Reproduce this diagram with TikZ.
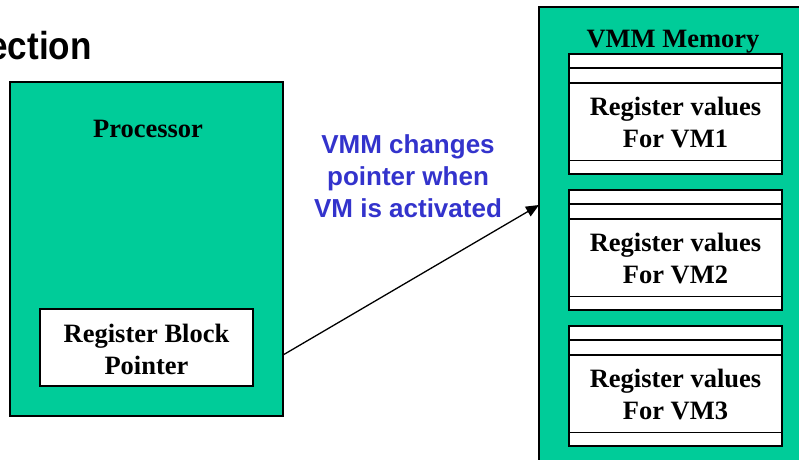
\documentclass[tikz,border=0pt]{standalone}
\usepackage{fontspec}
\setmainfont{Liberation Serif}
\newfontfamily\arialfont{Liberation Sans}
\usetikzlibrary{arrows.meta,calc}
\definecolor{teal1}{RGB}{0,204,153}
\definecolor{blue1}{RGB}{51,51,204}
\tikzset{
  greenbox/.style={draw=black, line width=1.5pt, fill=teal1, inner sep=0pt},
  whitebox/.style={draw=black, line width=1.5pt, fill=white, inner sep=0pt},
  serifbold/.style={font=\fontsize{26.5}{32}\selectfont\bfseries, align=center, inner sep=0pt},
  bluetxt/.style={font=\arialfont\fontsize{26}{32}\selectfont\bfseries, text=blue1, align=center, inner sep=0pt},
  sepline/.style={line width=1.5pt},
}
\begin{document}
\begin{tikzpicture}[x=1pt,y=-1pt]
\useasboundingbox (0,0) rectangle (799,459);
% title fragment
\node[font=\arialfont\fontsize{39}{44}\selectfont\bfseries, anchor=base east, inner sep=0pt] (title) at (92,59) {\scalebox{0.9}[1]{ection}};
% processor
\node[greenbox, minimum width=273pt, minimum height=334pt] (proc) at (146.5,249) {};
\node[serifbold] (proclbl) at (148,129) {Processor};
\node[whitebox, minimum width=213pt, minimum height=77pt] (rbp) at (146.5,347.5) {};
\node[serifbold] (rbptxt) at (146.5,349) {Register Block\\Pointer};
% memory
\node[greenbox, minimum width=268pt, minimum height=460pt] (mem) at (673,237) {};
\node[serifbold] (memlbl) at (673,42) {VMM Memory};
% register value blocks
\foreach \i/\t in {1/53,2/189,3/325}{
  \node[whitebox, minimum width=213pt, minimum height=120pt, anchor=north] (blk\i) at (675.5,\t) {};
  \draw[sepline] (blk\i.north west) ++(0,15) coordinate (l1a\i) -- (l1a\i -| blk\i.east);
  \draw[sepline] (blk\i.north west) ++(0,30) coordinate (l2a\i) -- (l2a\i -| blk\i.east);
  \draw[sepline] (blk\i.south west) ++(0,-14) coordinate (l3a\i) -- (l3a\i -| blk\i.east);
  \node[serifbold] (txt\i) at ($(blk\i.north)+(0,69)$) {Register values\\For VM\i};
}
% arrow
\coordinate (arrS) at (283,355);
\coordinate (arrE) at (539,205);
\draw[line width=1.3pt, -{Triangle[length=13pt,width=11pt]}] (arrS) -- (arrE);
\node[bluetxt] (note) at (408,176) {VMM changes\\pointer when\\VM is activated};
\end{tikzpicture}
\end{document}
